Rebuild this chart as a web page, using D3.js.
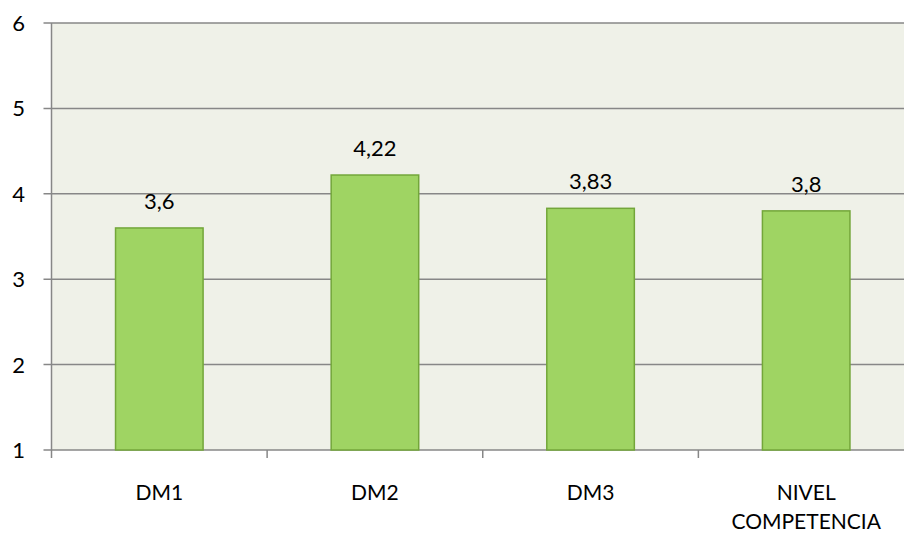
<html>
<head>
<title>Niveles DM</title>
<script src="https://cdn.jsdelivr.net/npm/d3@7/dist/d3.min.js"></script>
<style>
body { margin: 0; background: #fff; overflow: hidden; }
svg { display: block; }
text { font-family: Lato, "Open Sans", sans-serif; fill: #000; }
</style>
</head>
<body>
<svg id="chart"></svg>
<script>

var categories = ["DM1", "DM2", "DM3", "NIVEL COMPETENCIA"];
var values = [3.6, 4.22, 3.83, 3.8];
var valueLabels = ["3,6", "4,22", "3,83", "3,8"];
var yTicks = [1, 2, 3, 4, 5, 6];

var width = 904, height = 533;
var plotLeft = 51.5, plotTop = 23, plotBottom = 450, plotRight = 914;

var svg = d3.select("#chart")
  .attr("width", width)
  .attr("height", height);

var x = d3.scaleBand()
  .domain(categories)
  .range([plotLeft, plotRight])
  .paddingInner(0.594)
  .paddingOuter(0.297);

var y = d3.scaleLinear()
  .domain([1, 6])
  .range([plotBottom, plotTop]);

// plot background
svg.append("rect")
  .attr("x", plotLeft)
  .attr("y", plotTop)
  .attr("width", plotRight - plotLeft)
  .attr("height", plotBottom - plotTop)
  .attr("fill", "#eff1e8");

// gridlines + y ticks
svg.selectAll("line.grid")
  .data(yTicks)
  .enter().append("line")
    .attr("class", "grid")
    .attr("x1", plotLeft - 8)
    .attr("x2", plotRight)
    .attr("y1", function(d) { return y(d); })
    .attr("y2", function(d) { return y(d); })
    .attr("stroke", "#878787")
    .attr("stroke-width", 1.5);

svg.selectAll("text.ylab")
  .data(yTicks)
  .enter().append("text")
    .attr("class", "ylab")
    .attr("x", 25)
    .attr("y", function(d) { return y(d); })
    .attr("dy", "0.36em")
    .attr("text-anchor", "end")
    .attr("font-size", 22)
    .text(function(d) { return d; });

// y axis line
svg.append("line")
  .attr("x1", plotLeft).attr("x2", plotLeft)
  .attr("y1", plotTop).attr("y2", plotBottom + 8)
  .attr("stroke", "#878787")
  .attr("stroke-width", 1.5);

// x ticks at category boundaries
var step = x.step();
var bounds = categories.map(function(c) { return x(c) - x.paddingOuter() * step; });
svg.selectAll("line.xtick")
  .data(bounds.slice(1))
  .enter().append("line")
    .attr("class", "xtick")
    .attr("x1", function(d) { return d; })
    .attr("x2", function(d) { return d; })
    .attr("y1", plotBottom)
    .attr("y2", plotBottom + 8)
    .attr("stroke", "#878787")
    .attr("stroke-width", 1.5);

// bars
svg.selectAll("rect.bar")
  .data(values)
  .enter().append("rect")
    .attr("class", "bar")
    .attr("x", function(d, i) { return x(categories[i]); })
    .attr("y", function(d) { return y(d); })
    .attr("width", x.bandwidth())
    .attr("height", function(d) { return plotBottom - y(d); })
    .attr("fill", "#9fd463")
    .attr("stroke", "#73a63a")
    .attr("stroke-width", 1.5);

// value labels
svg.selectAll("text.val")
  .data(values)
  .enter().append("text")
    .attr("class", "val")
    .attr("x", function(d, i) { return x(categories[i]) + x.bandwidth() / 2; })
    .attr("y", function(d) { return y(d) - 19; })
    .attr("text-anchor", "middle")
    .attr("font-size", 22)
    .text(function(d, i) { return valueLabels[i]; });

// category labels
var xl = svg.selectAll("text.xlab")
  .data(categories)
  .enter().append("text")
    .attr("class", "xlab")
    .attr("text-anchor", "middle")
    .attr("font-size", 21);

xl.each(function(c) {
  var words = c.split(" ");
  var cx = x(c) + x.bandwidth() / 2;
  var t = d3.select(this);
  words.forEach(function(w, j) {
    t.append("tspan")
      .attr("x", cx)
      .attr("y", 500 + j * 29)
      .text(w);
  });
});

</script>
</body>
</html>
